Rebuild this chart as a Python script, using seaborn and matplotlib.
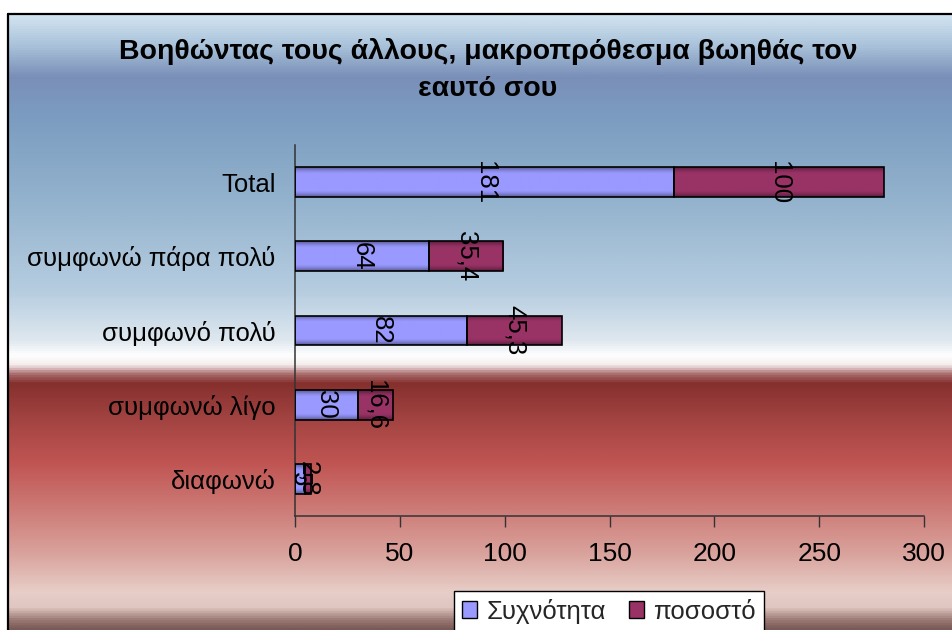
import numpy as np
import pandas as pd
import matplotlib
matplotlib.use("Agg")
import matplotlib.pyplot as plt
from matplotlib.colors import LinearSegmentedColormap, to_rgb
from matplotlib.patches import Patch
from matplotlib.lines import Line2D
import seaborn as sns

categories = ["Total", "συμφωνώ πάρα πολύ", "συμφωνό πολύ", "συμφωνώ λίγο", "διαφωνώ"]
frequency = [181, 64, 82, 30, 5]
percent = [100, 35.4, 45.3, 16.6, 2.8]
series_names = ["Συχνότητα", "ποσοστό"]
x_ticks = [0, 50, 100, 150, 200, 250, 300]
title = "Βοηθώντας τους άλλους, μακροπρόθεσμα βωηθάς τον\nεαυτό σου"

BLUE = "#9999ff"
MAROON = "#993366"

sns.set_theme(style="white")
plt.rcParams["font.family"] = ["Liberation Sans", "DejaVu Sans"]

W, H = 952, 630
fig = plt.figure(figsize=(W / 100, H / 100), dpi=100)
fig.patch.set_facecolor("white")

# framed background with a vertical colour gradient
bg_stops = [
    (0.00, "#d2e4f1"), (0.05, "#a9c2da"), (0.10, "#7a8fb8"), (0.17, "#7c9dc1"),
    (0.30, "#93b2cd"), (0.45, "#b6cde0"), (0.53, "#dfe8ef"), (0.555, "#ffffff"),
    (0.57, "#f4ecec"), (0.585, "#a86a6a"), (0.60, "#86302e"), (0.66, "#a34442"),
    (0.73, "#c05553"), (0.80, "#cc7874"), (0.88, "#daa49e"), (0.94, "#e8cec8"),
    (0.965, "#e0c6c0"), (0.985, "#9c7a76"), (1.00, "#7a5a56"),
]
bg_cmap = LinearSegmentedColormap.from_list("bg", bg_stops)
top_px, left_px = 14, 8
bg_ax = fig.add_axes([left_px / W, 0, 1 - left_px / W, 1 - top_px / H])
bg_ax.imshow(np.linspace(0, 1, 512).reshape(-1, 1), cmap=bg_cmap, aspect="auto",
             extent=[0, 1, 1, 0])
bg_ax.set_axis_off()
fig.add_artist(Line2D([left_px / W, left_px / W], [0, 1 - top_px / H], color="black",
                      lw=1.6, transform=fig.transFigure))
fig.add_artist(Line2D([left_px / W, 1], [1 - top_px / H, 1 - top_px / H], color="black",
                      lw=1.6, transform=fig.transFigure))

# chart area
ax = fig.add_axes([295 / W, 1 - 516 / H, (924 - 295) / W, (516 - 145) / H])
ax.patch.set_alpha(0)

df = pd.DataFrame({"category": categories, "frequency": frequency, "percent": percent})
df["cumulative"] = df["frequency"] + df["percent"]

sns.barplot(data=df, y="category", x="cumulative", order=categories, color=MAROON,
            width=0.4, edgecolor="black", linewidth=1.2, saturation=1, ax=ax)
n = len(categories)
maroon_patches = list(ax.patches[:n])
sns.barplot(data=df, y="category", x="frequency", order=categories, color=BLUE,
            width=0.4, edgecolor="black", linewidth=1.2, saturation=1, ax=ax)
blue_patches = list(ax.patches[n:2 * n])

# the second segment starts where the first one ends
for p, f, v in zip(maroon_patches, frequency, percent):
    p.set_x(f)
    p.set_width(v)


def shaded(color):
    c = np.array(to_rgb(color))
    t = np.linspace(0, 1, 64)
    edge = np.minimum(t, 1 - t)
    k = 1 - 0.42 * np.clip(1 - edge / 0.22, 0, 1) ** 1.5
    return (c[None, :] * k[:, None]).reshape(-1, 1, 3)


for patches, color in ((maroon_patches, MAROON), (blue_patches, BLUE)):
    grad = shaded(color)
    for p in patches:
        x0, y0, w, h = p.get_x(), p.get_y(), p.get_width(), p.get_height()
        im = ax.imshow(grad, extent=[x0, x0 + w, y0 + h, y0], aspect="auto",
                       zorder=2, interpolation="bilinear")
        im.set_clip_path(p)
        p.set_facecolor("none")
        p.set_zorder(3)


def fmt(v):
    return f"{v:g}".replace(".", ",")


for i, (f, v) in enumerate(zip(frequency, percent)):
    ax.text(f / 2, i, fmt(f), rotation=270, ha="center", va="center",
            fontsize=18.5, color="black", zorder=4, rotation_mode="anchor")
    ax.text(f + v / 2, i, fmt(v), rotation=270, ha="center", va="center",
            fontsize=18.5, color="black", zorder=4, rotation_mode="anchor")

ax.set_xlim(0, 300)
ax.set_ylim(n - 0.5, -0.5)
ax.set_xticks(x_ticks)
ax.set_xticklabels([str(t) for t in x_ticks])
ax.set_xlabel("")
ax.set_ylabel("")
ax.tick_params(axis="x", direction="out", length=8, width=1, color="#333333",
               pad=11, labelsize=19, labelcolor="black", bottom=True)
ax.tick_params(axis="y", length=0, pad=14, labelsize=18.5, labelcolor="black")
for side in ("top", "right"):
    ax.spines[side].set_visible(False)
for side in ("left", "bottom"):
    ax.spines[side].set_color("#333333")
    ax.spines[side].set_linewidth(1.1)
ax.grid(False)

fig.text(488 / W, 1 - 70 / H, title, ha="center", va="center", fontsize=20.5,
         fontweight="bold", linespacing=1.55, color="black")

handles = [Patch(facecolor=BLUE, edgecolor="black", lw=1),
           Patch(facecolor=MAROON, edgecolor="black", lw=1)]
fig.legend(handles, series_names, loc="upper center",
           bbox_to_anchor=(609 / W, 1 - 591 / H), borderaxespad=0, ncol=2,
           frameon=True, fancybox=False, edgecolor="black", framealpha=1,
           fontsize=18.5, handlelength=0.6, handleheight=0.6, handletextpad=0.35,
           columnspacing=0.9, borderpad=0.3)

fig.savefig("out.png", dpi=100)
